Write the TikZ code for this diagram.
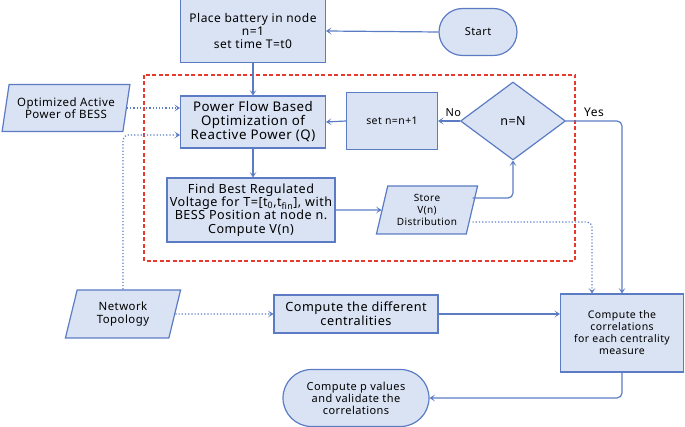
\documentclass[tikz,border=0pt]{standalone}
\usepackage{fontspec}
\setmainfont{Noto Sans}[LetterSpace=4]
\usetikzlibrary{shapes.geometric,shapes.misc,arrows.meta}
\definecolor{boxfill}{HTML}{DAE3F3}
\definecolor{boxline}{HTML}{5B7CC4}
\definecolor{loopred}{HTML}{E8392E}
\begin{document}
\begin{tikzpicture}[x=1pt, y=-1pt, >={Stealth[length=5.5pt,width=7pt,inset=3pt]},
  font=\fontsize{12}{12.7}\selectfont,
  block/.style={draw=boxline, fill=boxfill, line width=1.2pt, align=center, inner sep=1pt},
  term/.style={block, rounded rectangle},
  data/.style={block, trapezium, trapezium left angle=75, trapezium right angle=105,
    trapezium stretches=true},
  flow/.style={draw=boxline, line width=1.2pt, ->},
  dataflow/.style={flow, dotted}]
  \useasboundingbox (0,0) rectangle (685,427);

  % loop over the nodes
  \draw[loopred, line width=1.2pt, dash pattern=on 4pt off 2.5pt] (144,75) rectangle (575,261);

  \node[block, minimum width=145, minimum height=63] (place) at (253,31)
    {Place battery in node\\ n=1\\ set time T=t0};
  \node[term, minimum width=80, minimum height=47, font=\fontsize{11}{12}\selectfont] (start) at (478,32) {Start};
  \node[block, minimum width=145, minimum height=52, font=\fontsize{13.3}{14}\selectfont] (pf) at (253,122)
    {Power Flow Based\\ Optimization of\\ Reactive Power (Q)};
  \node[block, minimum width=91, minimum height=57, font=\fontsize{10.5}{12}\selectfont] (inc) at (392,121) {set n=n+1};
  \node[block, diamond, aspect=1.35, minimum width=105, minimum height=78,
    font=\fontsize{12.5}{13}\selectfont] (dec) at (513,121) {n=N};
  \node[block, minimum width=168, minimum height=64, font=\fontsize{12.6}{13.3}\selectfont] (find) at (251,210)
    {Find Best Regulated\\ Voltage for T=[t\textsubscript{0},t\textsubscript{fin}], with\\
     BESS Position at node n.\\ Compute V(n)};
  \node[data, minimum width=102, minimum height=48, font=\fontsize{10}{12}\selectfont] (store) at (427,210)
    {Store\\ V(n)\\ Distribution};
  \node[data, minimum width=128, minimum height=47, font=\fontsize{11.5}{12}\selectfont] (opt) at (66,108)
    {Optimized Active\\ Power of BESS};
  \node[data, minimum width=116, minimum height=48, font=\fontsize{11.4}{12.5}\selectfont] (net) at (123,314)
    {Network\\ Topology};
  \node[block, minimum width=164, minimum height=38, font=\fontsize{12.7}{14.3}\selectfont] (cent) at (356,314)
    {Compute the different\\ centralities};
  \node[block, minimum width=123, minimum height=78, font=\fontsize{10.5}{12}\selectfont] (corr) at (622,333)
    {Compute the\\ correlations\\ for each centrality\\ measure};
  \node[term, minimum width=148, minimum height=57, font=\fontsize{11}{12}\selectfont] (pval) at (356,398)
    {Compute p values\\ and validate the\\ correlations};

  % main flow
  \draw[flow] (start.west) -- (place.east);
  \draw[flow] (place) -- (pf);
  \draw[flow] (pf.south) -- (pf.south |- find.north);
  \draw[flow] (find.east) -- (store.west);
  \draw[flow, rounded corners=5] ([yshift=12pt]store.east) -| (dec.south);
  \draw[flow] (dec.west) -- node[above, pos=0.3, font=\fontsize{11}{12}\selectfont] {No} (inc.east);
  \draw[flow] (inc.west) -- (pf.east);
  \draw[flow, rounded corners=5] (dec.east) -| node[above, pos=0.25, font=\fontsize{12}{12}\selectfont] {Yes} (corr.north);
  \draw[flow] (cent.east) -- (cent.east -| corr.west);
  \draw[flow, rounded corners=5] (corr.south) |- (pval.east);

  % data inputs
  \draw[dataflow] (opt.east) -- (opt.east -| pf.west);
  \draw[dataflow, rounded corners=5] (net.north) |- ([yshift=-13pt]pf.west);
  \draw[dataflow] (net.east) -- (cent.west);
  \draw[dataflow, rounded corners=5] ([yshift=-12pt]store.east) -| ([xshift=-30pt]corr.north);
\end{tikzpicture}
\end{document}
